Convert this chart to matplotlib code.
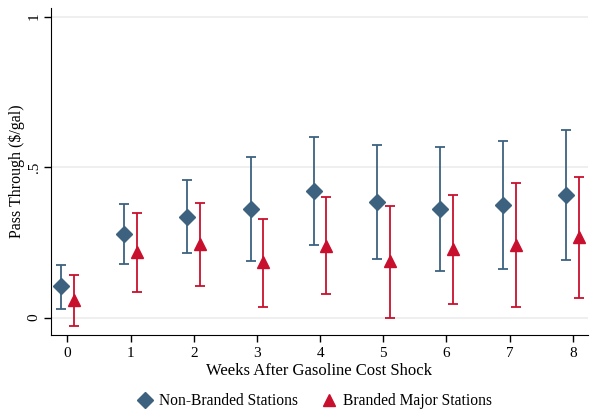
import matplotlib
matplotlib.use("Agg")
import matplotlib.pyplot as plt
import numpy as np
from matplotlib.lines import Line2D

plt.rcParams['font.family'] = ['Liberation Serif', 'DejaVu Serif']

weeks = [0, 1, 2, 3, 4, 5, 6, 7, 8]
nb_est = [0.104, 0.278, 0.334, 0.359, 0.419, 0.383, 0.359, 0.374, 0.407]
nb_lo = [0.030, 0.177, 0.214, 0.188, 0.240, 0.194, 0.154, 0.161, 0.191]
nb_hi = [0.176, 0.378, 0.456, 0.533, 0.599, 0.573, 0.565, 0.587, 0.624]
br_est = [0.058, 0.218, 0.244, 0.185, 0.238, 0.188, 0.227, 0.241, 0.267]
br_lo = [-0.028, 0.084, 0.104, 0.036, 0.078, -0.001, 0.045, 0.035, 0.065]
br_hi = [0.141, 0.346, 0.380, 0.328, 0.400, 0.372, 0.408, 0.446, 0.468]
ytick_vals = [0, 0.5, 1]
ytick_labels = ["0", ".5", "1"]
series_labels = ["Non-Branded Stations", "Branded Major Stations"]

blue = "#3d6280"
red = "#c8102e"

fig = plt.figure(figsize=(5.92, 4.15), dpi=100)
ax = fig.add_axes([0.0861, 0.1928, 0.907, 0.789])

w = np.array(weeks, dtype=float)
nb_est_a = np.array(nb_est); br_est_a = np.array(br_est)
ax.errorbar(w - 0.1, nb_est, yerr=[nb_est_a - np.array(nb_lo), np.array(nb_hi) - nb_est_a],
            fmt='D', color=blue, ecolor=blue, markersize=8, elinewidth=1.3,
            capsize=3.3, capthick=1.3, zorder=3)
ax.errorbar(w + 0.1, br_est, yerr=[br_est_a - np.array(br_lo), np.array(br_hi) - br_est_a],
            fmt='^', color=red, ecolor=red, markersize=9, elinewidth=1.3,
            capsize=3.3, capthick=1.3, zorder=3)

ax.set_xlim(-0.26, 8.24)
ax.set_ylim(-0.058, 1.03)
ax.set_xticks(weeks)
ax.set_xticklabels([str(x) for x in weeks], fontsize=11)
ax.set_yticks(ytick_vals)
ax.set_yticklabels(ytick_labels, fontsize=11, rotation=90, va='center')
for g in ytick_vals:
    ax.axhline(g, color="#ececec", lw=1.2, zorder=0)
ax.spines['top'].set_visible(False)
ax.spines['right'].set_visible(False)
ax.tick_params(axis='both', direction='out', length=5, width=1, colors='black')
ax.tick_params(axis='y', pad=2.5)
ax.set_xlabel("Weeks After Gasoline Cost Shock", fontsize=12, labelpad=2)
ax.set_ylabel("Pass Through ($/gal)", fontsize=11.5, va='center')
ax.yaxis.set_label_coords(-0.063, 0.5)

h1 = Line2D([], [], marker='D', color=blue, linestyle='None', markersize=8)
h2 = Line2D([], [], marker='^', color=red, linestyle='None', markersize=9)
fig.legend([h1, h2], series_labels, loc='center', bbox_to_anchor=(0.53, 0.033), ncol=2,
           frameon=False, fontsize=11.2, handletextpad=0.3, columnspacing=1.4,
           handlelength=1.2)

fig.savefig("out.png", dpi=100)
